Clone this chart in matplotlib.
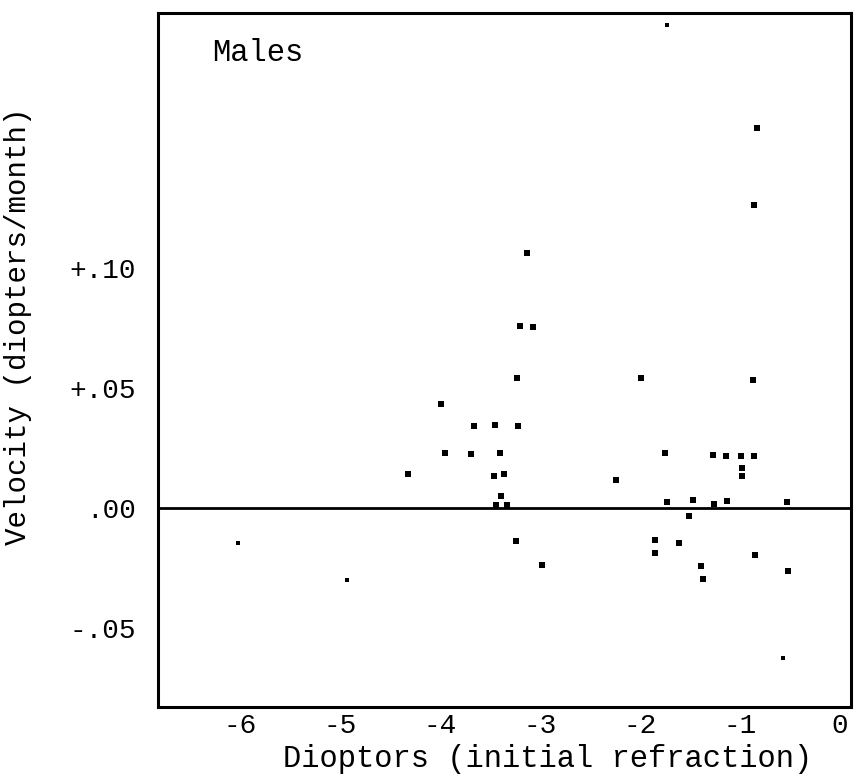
import matplotlib.pyplot as plt

# initial refraction (diopters) vs velocity (diopters/month), males
refraction = [-3.13, -3.20, -3.07, -3.23, -1.99, -0.87, -3.99, -3.66, -3.45, -3.22,
              -3.95, -3.69, -3.40, -1.75, -1.27, -1.14, -0.99, -0.86, -4.32, -3.46,
              -3.36, -2.24, -0.98, -0.98, -3.39, -3.44, -3.33, -1.73, -1.47, -1.26,
              -1.13, -0.53, -1.51, -3.24, -1.85, -1.85, -1.61, -2.98, -0.85, -1.39,
              -1.37, -0.52, -0.83, -0.86]
velocity = [0.106, 0.0755, 0.0753, 0.054, 0.0538, 0.0533, 0.043, 0.034, 0.0344, 0.034,
            0.0228, 0.0225, 0.0228, 0.0228, 0.0218, 0.0214, 0.0214, 0.0214, 0.0142, 0.0133,
            0.014, 0.0117, 0.0165, 0.013, 0.005, 0.0013, 0.0013, 0.0022, 0.0033, 0.0017,
            0.0026, 0.0022, -0.0036, -0.014, -0.0136, -0.0189, -0.0147, -0.0238, -0.0199, -0.0244,
            -0.0297, -0.0263, 0.158, 0.126]

# faint (small) marks
faint_x = [-6.02, -4.93, -1.73, -0.57]
faint_y = [-0.0147, -0.0303, 0.201, -0.0626]

xticks = [-6, -5, -4, -3, -2, -1, 0]
xlabels = ['-6', '-5', '-4', '-3', '-2', '-1', '0']
yticks = [0.10, 0.05, 0.00, -0.05]
ylabels = ['+.10', '+.05', '.00', '-.05']

font = 'Liberation Mono'

fig = plt.figure(figsize=(8.61, 7.77), dpi=100)
ax = fig.add_axes([0.1835, 0.0901, 0.8045, 0.8932])

ax.axhline(0, color='black', lw=2)
ax.plot(refraction, velocity, 's', color='black', ms=4.5, mew=0)
ax.plot(faint_x, faint_y, 's', color='black', ms=2.5, mew=0)

ax.set_xlim(-6.82, 0.11)
ax.set_ylim(-0.083, 0.206)

ax.set_xticks(xticks)
ax.set_xticklabels(xlabels, fontfamily=font, fontsize=20)
ax.set_yticks(yticks)
ax.set_yticklabels(ylabels, fontfamily=font, fontsize=20)
ax.tick_params(length=0)
ax.tick_params(axis='x', pad=4)
ax.tick_params(axis='y', pad=16)

for s in ax.spines.values():
    s.set_linewidth(2.2)

ax.set_xlabel('Dioptors (initial refraction)', fontfamily=font, fontsize=22)
ax.xaxis.set_label_coords(0.563, -0.053)
ax.set_ylabel('Velocity (diopters/month)', fontfamily=font, fontsize=21)
ax.yaxis.set_label_coords(-0.182, 0.549)

ax.text(0.078, 0.942, 'Males', transform=ax.transAxes, fontfamily=font,
        fontsize=22, va='center')

fig.savefig('out.png', dpi=100)
